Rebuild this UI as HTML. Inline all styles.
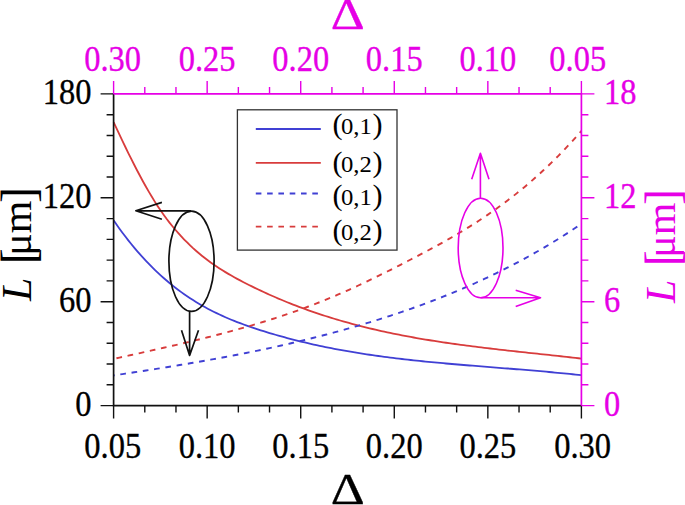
<!DOCTYPE html><html><head><meta charset="utf-8"><style>html,body{margin:0;padding:0;background:#fff;overflow:hidden;width:685px;height:505px;}svg{display:block;}text{font-family:"Liberation Serif",serif;}</style></head><body>
<svg width="685" height="505" viewBox="0 0 685 505">
<path d="M113.60,122.10 L116.54,128.43 L119.48,134.70 L122.43,140.90 L125.37,147.01 L128.31,153.04 L131.25,158.96 L134.19,164.78 L137.14,170.48 L140.08,176.04 L143.02,181.47 L145.96,186.75 L148.91,191.87 L151.85,196.82 L154.79,201.60 L157.73,206.19 L160.67,210.59 L163.62,214.78 L166.56,218.78 L169.50,222.60 L172.44,226.26 L175.38,229.78 L178.33,233.15 L181.27,236.40 L184.21,239.51 L187.15,242.49 L190.10,245.36 L193.04,248.11 L195.98,250.74 L198.92,253.28 L201.86,255.71 L204.81,258.05 L207.75,260.30 L210.69,262.46 L213.63,264.54 L216.57,266.54 L219.52,268.47 L222.46,270.34 L225.40,272.14 L228.34,273.89 L231.29,275.59 L234.23,277.23 L237.17,278.84 L240.11,280.41 L243.05,281.95 L246.00,283.46 L248.94,284.95 L251.88,286.41 L254.82,287.85 L257.76,289.27 L260.71,290.66 L263.65,292.03 L266.59,293.38 L269.53,294.71 L272.48,296.01 L275.42,297.29 L278.36,298.55 L281.30,299.79 L284.24,301.01 L287.19,302.21 L290.13,303.39 L293.07,304.54 L296.01,305.68 L298.95,306.80 L301.90,307.90 L304.84,308.97 L307.78,310.03 L310.72,311.07 L313.67,312.09 L316.61,313.10 L319.55,314.08 L322.49,315.05 L325.43,316.00 L328.38,316.93 L331.32,317.85 L334.26,318.75 L337.20,319.63 L340.14,320.49 L343.09,321.34 L346.03,322.18 L348.97,322.99 L351.91,323.79 L354.86,324.58 L357.80,325.35 L360.74,326.11 L363.68,326.85 L366.62,327.58 L369.57,328.30 L372.51,329.00 L375.45,329.68 L378.39,330.36 L381.33,331.02 L384.28,331.67 L387.22,332.30 L390.16,332.92 L393.10,333.53 L396.05,334.13 L398.99,334.72 L401.93,335.30 L404.87,335.86 L407.81,336.42 L410.76,336.96 L413.70,337.49 L416.64,338.02 L419.58,338.53 L422.52,339.03 L425.47,339.53 L428.41,340.01 L431.35,340.49 L434.29,340.95 L437.24,341.41 L440.18,341.86 L443.12,342.31 L446.06,342.74 L449.00,343.17 L451.95,343.59 L454.89,344.00 L457.83,344.41 L460.77,344.81 L463.71,345.20 L466.66,345.59 L469.60,345.97 L472.54,346.35 L475.48,346.72 L478.43,347.09 L481.37,347.45 L484.31,347.80 L487.25,348.16 L490.19,348.50 L493.14,348.85 L496.08,349.19 L499.02,349.53 L501.96,349.86 L504.90,350.19 L507.85,350.52 L510.79,350.85 L513.73,351.17 L516.67,351.49 L519.62,351.81 L522.56,352.13 L525.50,352.45 L528.44,352.77 L531.38,353.08 L534.33,353.40 L537.27,353.71 L540.21,354.03 L543.15,354.34 L546.09,354.66 L549.04,354.98 L551.98,355.30 L554.92,355.61 L557.86,355.94 L560.81,356.26 L563.75,356.58 L566.69,356.91 L569.63,357.24 L572.57,357.57 L575.52,357.90 L578.46,358.24 L581.40,358.58" fill="none" stroke="#d83c3c" stroke-width="1.8"/>
<path d="M113.60,220.31 L116.54,224.54 L119.48,228.66 L122.43,232.66 L125.37,236.56 L128.31,240.34 L131.25,244.02 L134.19,247.60 L137.14,251.07 L140.08,254.44 L143.02,257.71 L145.96,260.88 L148.91,263.96 L151.85,266.95 L154.79,269.84 L157.73,272.65 L160.67,275.37 L163.62,278.00 L166.56,280.55 L169.50,283.02 L172.44,285.41 L175.38,287.73 L178.33,289.97 L181.27,292.13 L184.21,294.23 L187.15,296.25 L190.10,298.21 L193.04,300.11 L195.98,301.94 L198.92,303.71 L201.86,305.42 L204.81,307.07 L207.75,308.67 L210.69,310.21 L213.63,311.71 L216.57,313.15 L219.52,314.55 L222.46,315.90 L225.40,317.21 L228.34,318.48 L231.29,319.71 L234.23,320.90 L237.17,322.06 L240.11,323.18 L243.05,324.28 L246.00,325.34 L248.94,326.37 L251.88,327.39 L254.82,328.37 L257.76,329.34 L260.71,330.29 L263.65,331.21 L266.59,332.13 L269.53,333.02 L272.48,333.90 L275.42,334.76 L278.36,335.60 L281.30,336.43 L284.24,337.24 L287.19,338.04 L290.13,338.82 L293.07,339.58 L296.01,340.33 L298.95,341.06 L301.90,341.78 L304.84,342.49 L307.78,343.18 L310.72,343.85 L313.67,344.52 L316.61,345.16 L319.55,345.80 L322.49,346.42 L325.43,347.03 L328.38,347.62 L331.32,348.21 L334.26,348.78 L337.20,349.34 L340.14,349.88 L343.09,350.42 L346.03,350.94 L348.97,351.45 L351.91,351.95 L354.86,352.45 L357.80,352.92 L360.74,353.39 L363.68,353.85 L366.62,354.30 L369.57,354.74 L372.51,355.17 L375.45,355.59 L378.39,356.00 L381.33,356.41 L384.28,356.80 L387.22,357.19 L390.16,357.56 L393.10,357.93 L396.05,358.30 L398.99,358.65 L401.93,359.00 L404.87,359.34 L407.81,359.67 L410.76,360.00 L413.70,360.32 L416.64,360.63 L419.58,360.94 L422.52,361.24 L425.47,361.54 L428.41,361.83 L431.35,362.12 L434.29,362.40 L437.24,362.68 L440.18,362.95 L443.12,363.22 L446.06,363.48 L449.00,363.75 L451.95,364.00 L454.89,364.26 L457.83,364.51 L460.77,364.76 L463.71,365.00 L466.66,365.24 L469.60,365.49 L472.54,365.72 L475.48,365.96 L478.43,366.20 L481.37,366.43 L484.31,366.67 L487.25,366.90 L490.19,367.13 L493.14,367.36 L496.08,367.59 L499.02,367.83 L501.96,368.06 L504.90,368.29 L507.85,368.52 L510.79,368.76 L513.73,368.99 L516.67,369.23 L519.62,369.47 L522.56,369.71 L525.50,369.95 L528.44,370.19 L531.38,370.44 L534.33,370.69 L537.27,370.94 L540.21,371.19 L543.15,371.45 L546.09,371.72 L549.04,371.98 L551.98,372.25 L554.92,372.53 L557.86,372.80 L560.81,373.09 L563.75,373.38 L566.69,373.67 L569.63,373.97 L572.57,374.27 L575.52,374.58 L578.46,374.90 L581.40,375.22" fill="none" stroke="#4040d4" stroke-width="1.8"/>
<path d="M113.60,358.90 L116.54,358.25 L119.48,357.60 L122.43,356.95 L125.37,356.30 L128.31,355.65 L131.25,355.00 L134.19,354.36 L137.14,353.71 L140.08,353.06 L143.02,352.40 L145.96,351.75 L148.91,351.10 L151.85,350.44 L154.79,349.78 L157.73,349.12 L160.67,348.46 L163.62,347.79 L166.56,347.12 L169.50,346.45 L172.44,345.77 L175.38,345.09 L178.33,344.41 L181.27,343.72 L184.21,343.03 L187.15,342.33 L190.10,341.63 L193.04,340.92 L195.98,340.20 L198.92,339.49 L201.86,338.76 L204.81,338.03 L207.75,337.29 L210.69,336.55 L213.63,335.80 L216.57,335.04 L219.52,334.28 L222.46,333.50 L225.40,332.72 L228.34,331.94 L231.29,331.14 L234.23,330.33 L237.17,329.52 L240.11,328.70 L243.05,327.87 L246.00,327.02 L248.94,326.17 L251.88,325.31 L254.82,324.44 L257.76,323.56 L260.71,322.67 L263.65,321.76 L266.59,320.85 L269.53,319.92 L272.48,318.99 L275.42,318.04 L278.36,317.08 L281.30,316.11 L284.24,315.12 L287.19,314.12 L290.13,313.11 L293.07,312.08 L296.01,311.05 L298.95,309.99 L301.90,308.93 L304.84,307.85 L307.78,306.75 L310.72,305.65 L313.67,304.52 L316.61,303.38 L319.55,302.23 L322.49,301.06 L325.43,299.87 L328.38,298.67 L331.32,297.45 L334.26,296.22 L337.20,294.97 L340.14,293.70 L343.09,292.41 L346.03,291.11 L348.97,289.80 L351.91,288.46 L354.86,287.12 L357.80,285.76 L360.74,284.39 L363.68,283.00 L366.62,281.61 L369.57,280.20 L372.51,278.78 L375.45,277.35 L378.39,275.90 L381.33,274.45 L384.28,272.99 L387.22,271.52 L390.16,270.04 L393.10,268.56 L396.05,267.07 L398.99,265.57 L401.93,264.06 L404.87,262.55 L407.81,261.03 L410.76,259.51 L413.70,257.98 L416.64,256.45 L419.58,254.91 L422.52,253.36 L425.47,251.81 L428.41,250.24 L431.35,248.66 L434.29,247.07 L437.24,245.47 L440.18,243.85 L443.12,242.22 L446.06,240.57 L449.00,238.90 L451.95,237.21 L454.89,235.50 L457.83,233.77 L460.77,232.02 L463.71,230.24 L466.66,228.44 L469.60,226.62 L472.54,224.77 L475.48,222.89 L478.43,220.99 L481.37,219.06 L484.31,217.10 L487.25,215.11 L490.19,213.08 L493.14,211.03 L496.08,208.95 L499.02,206.83 L501.96,204.68 L504.90,202.49 L507.85,200.27 L510.79,198.01 L513.73,195.72 L516.67,193.38 L519.62,191.01 L522.56,188.60 L525.50,186.15 L528.44,183.66 L531.38,181.13 L534.33,178.55 L537.27,175.93 L540.21,173.27 L543.15,170.56 L546.09,167.80 L549.04,165.00 L551.98,162.15 L554.92,159.26 L557.86,156.31 L560.81,153.32 L563.75,150.27 L566.69,147.17 L569.63,144.02 L572.57,140.82 L575.52,137.56 L578.46,134.25 L581.40,130.88" fill="none" stroke="#d83c3c" stroke-width="1.9" stroke-dasharray="5.7 5.7" stroke-dashoffset="8.5"/>
<path d="M113.60,375.39 L116.54,374.95 L119.48,374.51 L122.43,374.07 L125.37,373.63 L128.31,373.19 L131.25,372.74 L134.19,372.29 L137.14,371.84 L140.08,371.39 L143.02,370.94 L145.96,370.48 L148.91,370.03 L151.85,369.56 L154.79,369.10 L157.73,368.63 L160.67,368.17 L163.62,367.69 L166.56,367.22 L169.50,366.74 L172.44,366.26 L175.38,365.78 L178.33,365.29 L181.27,364.80 L184.21,364.31 L187.15,363.81 L190.10,363.31 L193.04,362.80 L195.98,362.29 L198.92,361.78 L201.86,361.26 L204.81,360.74 L207.75,360.22 L210.69,359.69 L213.63,359.16 L216.57,358.62 L219.52,358.08 L222.46,357.53 L225.40,356.98 L228.34,356.42 L231.29,355.86 L234.23,355.29 L237.17,354.72 L240.11,354.14 L243.05,353.56 L246.00,352.98 L248.94,352.38 L251.88,351.78 L254.82,351.18 L257.76,350.57 L260.71,349.96 L263.65,349.33 L266.59,348.71 L269.53,348.07 L272.48,347.43 L275.42,346.79 L278.36,346.14 L281.30,345.48 L284.24,344.81 L287.19,344.14 L290.13,343.46 L293.07,342.78 L296.01,342.09 L298.95,341.39 L301.90,340.68 L304.84,339.97 L307.78,339.25 L310.72,338.52 L313.67,337.78 L316.61,337.04 L319.55,336.29 L322.49,335.53 L325.43,334.77 L328.38,334.00 L331.32,333.21 L334.26,332.42 L337.20,331.63 L340.14,330.82 L343.09,330.01 L346.03,329.18 L348.97,328.35 L351.91,327.51 L354.86,326.66 L357.80,325.81 L360.74,324.94 L363.68,324.07 L366.62,323.18 L369.57,322.29 L372.51,321.39 L375.45,320.48 L378.39,319.56 L381.33,318.63 L384.28,317.69 L387.22,316.74 L390.16,315.78 L393.10,314.81 L396.05,313.83 L398.99,312.84 L401.93,311.84 L404.87,310.83 L407.81,309.81 L410.76,308.78 L413.70,307.74 L416.64,306.68 L419.58,305.62 L422.52,304.55 L425.47,303.46 L428.41,302.36 L431.35,301.25 L434.29,300.12 L437.24,298.99 L440.18,297.84 L443.12,296.68 L446.06,295.50 L449.00,294.32 L451.95,293.12 L454.89,291.90 L457.83,290.67 L460.77,289.43 L463.71,288.17 L466.66,286.90 L469.60,285.61 L472.54,284.31 L475.48,283.00 L478.43,281.66 L481.37,280.32 L484.31,278.95 L487.25,277.57 L490.19,276.18 L493.14,274.77 L496.08,273.34 L499.02,271.90 L501.96,270.43 L504.90,268.96 L507.85,267.46 L510.79,265.95 L513.73,264.42 L516.67,262.87 L519.62,261.30 L522.56,259.71 L525.50,258.11 L528.44,256.49 L531.38,254.85 L534.33,253.19 L537.27,251.51 L540.21,249.81 L543.15,248.09 L546.09,246.35 L549.04,244.59 L551.98,242.81 L554.92,241.01 L557.86,239.19 L560.81,237.35 L563.75,235.48 L566.69,233.60 L569.63,231.69 L572.57,229.77 L575.52,227.82 L578.46,225.84 L581.40,223.85" fill="none" stroke="#4040d4" stroke-width="1.9" stroke-dasharray="5.7 5.7" stroke-dashoffset="4.65"/>
<path d="M113.60,405.6 V418.6 M144.79,405.6 V412.6 M175.97,405.6 V412.6 M207.16,405.6 V418.6 M238.35,405.6 V412.6 M269.53,405.6 V412.6 M300.72,405.6 V418.6 M331.91,405.6 V412.6 M363.09,405.6 V412.6 M394.28,405.6 V418.6 M425.47,405.6 V412.6 M456.65,405.6 V412.6 M487.84,405.6 V418.6 M519.03,405.6 V412.6 M550.21,405.6 V412.6 M581.40,405.6 V418.6 M113.6,405.60 H100.6 M113.6,384.82 H106.6 M113.6,364.04 H106.6 M113.6,343.26 H106.6 M113.6,322.48 H106.6 M113.6,301.70 H100.6 M113.6,280.92 H106.6 M113.6,260.14 H106.6 M113.6,239.36 H106.6 M113.6,218.58 H106.6 M113.6,197.80 H100.6 M113.6,177.02 H106.6 M113.6,156.24 H106.6 M113.6,135.46 H106.6 M113.6,114.68 H106.6 M113.6,93.90 H100.6" stroke="#111" stroke-width="1.4" fill="none"/>
<path d="M113.6,93.2 V405.6 H582.1" stroke="#111" stroke-width="1.7" fill="none"/>
<path d="M113.60,93.9 V80.9 M144.79,93.9 V86.9 M175.97,93.9 V86.9 M207.16,93.9 V80.9 M238.35,93.9 V86.9 M269.53,93.9 V86.9 M300.72,93.9 V80.9 M331.91,93.9 V86.9 M363.09,93.9 V86.9 M394.28,93.9 V80.9 M425.47,93.9 V86.9 M456.65,93.9 V86.9 M487.84,93.9 V80.9 M519.03,93.9 V86.9 M550.21,93.9 V86.9 M581.40,93.9 V80.9 M581.4,405.60 H594.4 M581.4,384.82 H588.4 M581.4,364.04 H588.4 M581.4,343.26 H588.4 M581.4,322.48 H588.4 M581.4,301.70 H594.4 M581.4,280.92 H588.4 M581.4,260.14 H588.4 M581.4,239.36 H588.4 M581.4,218.58 H588.4 M581.4,197.80 H594.4 M581.4,177.02 H588.4 M581.4,156.24 H588.4 M581.4,135.46 H588.4 M581.4,114.68 H588.4 M581.4,93.90 H594.4" stroke="#e600e6" stroke-width="1.4" fill="none"/>
<path d="M113.6,93.9 H581.4 V405.6" stroke="#e600e6" stroke-width="1.7" fill="none"/>
<text transform="translate(112.80,458.20) scale(1,1.09)" font-size="32.5" text-anchor="middle" stroke="#000" stroke-width="0.3">0.05</text>
<text transform="translate(207.16,458.20) scale(1,1.09)" font-size="32.5" text-anchor="middle" stroke="#000" stroke-width="0.3">0.10</text>
<text transform="translate(300.72,458.20) scale(1,1.09)" font-size="32.5" text-anchor="middle" stroke="#000" stroke-width="0.3">0.15</text>
<text transform="translate(394.28,458.20) scale(1,1.09)" font-size="32.5" text-anchor="middle" stroke="#000" stroke-width="0.3">0.20</text>
<text transform="translate(487.84,458.20) scale(1,1.09)" font-size="32.5" text-anchor="middle" stroke="#000" stroke-width="0.3">0.25</text>
<text transform="translate(582.60,458.20) scale(1,1.09)" font-size="32.5" text-anchor="middle" stroke="#000" stroke-width="0.3">0.30</text>
<text transform="translate(112.60,70.80) scale(1,1.09)" font-size="32.5" text-anchor="middle" fill="#e600e6" stroke="#e600e6" stroke-width="0.3">0.30</text>
<text transform="translate(207.16,70.80) scale(1,1.09)" font-size="32.5" text-anchor="middle" fill="#e600e6" stroke="#e600e6" stroke-width="0.3">0.25</text>
<text transform="translate(300.72,70.80) scale(1,1.09)" font-size="32.5" text-anchor="middle" fill="#e600e6" stroke="#e600e6" stroke-width="0.3">0.20</text>
<text transform="translate(394.28,70.80) scale(1,1.09)" font-size="32.5" text-anchor="middle" fill="#e600e6" stroke="#e600e6" stroke-width="0.3">0.15</text>
<text transform="translate(487.84,70.80) scale(1,1.09)" font-size="32.5" text-anchor="middle" fill="#e600e6" stroke="#e600e6" stroke-width="0.3">0.10</text>
<text transform="translate(577.80,70.80) scale(1,1.09)" font-size="32.5" text-anchor="middle" fill="#e600e6" stroke="#e600e6" stroke-width="0.3">0.05</text>
<text transform="translate(91.60,415.60) scale(1,1.09)" font-size="32.5" text-anchor="end" stroke="#000" stroke-width="0.3">0</text>
<text transform="translate(91.60,311.70) scale(1,1.09)" font-size="32.5" text-anchor="end" stroke="#000" stroke-width="0.3">60</text>
<text transform="translate(91.60,207.80) scale(1,1.09)" font-size="32.5" text-anchor="end" stroke="#000" stroke-width="0.3">120</text>
<text transform="translate(91.60,103.90) scale(1,1.09)" font-size="32.5" text-anchor="end" stroke="#000" stroke-width="0.3">180</text>
<text transform="translate(604.00,415.60) scale(1,1.09)" font-size="32.5" text-anchor="start" fill="#e600e6" stroke="#e600e6" stroke-width="0.3">0</text>
<text transform="translate(604.00,311.70) scale(1,1.09)" font-size="32.5" text-anchor="start" fill="#e600e6" stroke="#e600e6" stroke-width="0.3">6</text>
<text transform="translate(604.00,207.80) scale(1,1.09)" font-size="32.5" text-anchor="start" fill="#e600e6" stroke="#e600e6" stroke-width="0.3">12</text>
<text transform="translate(604.00,103.90) scale(1,1.09)" font-size="32.5" text-anchor="start" fill="#e600e6" stroke="#e600e6" stroke-width="0.3">18</text>
<text transform="translate(347.70,504.00) scale(1.2,1)" font-size="44" text-anchor="middle" stroke="#000" stroke-width="0.3">&#916;</text>
<text transform="translate(347.70,29.00) scale(1.2,1)" font-size="44" text-anchor="middle" fill="#e600e6" stroke="#e600e6" stroke-width="0.3">&#916;</text>
<text transform="translate(31,301) rotate(-90)" font-size="42"><tspan font-style="italic">L</tspan><tspan> </tspan><tspan font-size="48" dx="3" dy="2.5">[</tspan><tspan dx="-7.5" dy="-2.5">&#956;m</tspan><tspan font-size="48" dx="-2.5" dy="2.5">]</tspan></text>
<text transform="translate(675,303) rotate(-90)" font-size="42" fill="#e600e6"><tspan font-style="italic">L</tspan><tspan> </tspan><tspan font-size="48" dx="3" dy="2.5">[</tspan><tspan dx="-7.5" dy="-2.5">&#956;m</tspan><tspan font-size="48" dx="-2.5" dy="2.5">]</tspan></text>
<rect x="237.4" y="109.8" width="159.6" height="140.3" fill="#fff" stroke="#333" stroke-width="1.3"/>
<path d="M255.8,129.0 H320.8" stroke="#4040d4" stroke-width="1.8"/>
<text transform="translate(332.6,134.10) scale(1.06,1)" font-size="23.3"><tspan font-size="28.5">(</tspan><tspan dx="-1.6">0,1</tspan><tspan dx="0.6" font-size="28.5">)</tspan></text>
<path d="M255.8,162.8 H320.8" stroke="#d83c3c" stroke-width="1.8"/>
<text transform="translate(332.6,172.00) scale(1.06,1)" font-size="23.3"><tspan font-size="28.5">(</tspan><tspan dx="-1.6">0,2</tspan><tspan dx="0.6" font-size="28.5">)</tspan></text>
<path d="M255.8,193.5 H318" stroke="#4040d4" stroke-width="1.8" stroke-dasharray="5.6 5.7"/>
<text transform="translate(332.6,205.30) scale(1.06,1)" font-size="23.3"><tspan font-size="28.5">(</tspan><tspan dx="-1.6">0,1</tspan><tspan dx="0.6" font-size="28.5">)</tspan></text>
<path d="M255.8,226.6 H318" stroke="#d83c3c" stroke-width="1.8" stroke-dasharray="5.6 5.7"/>
<text transform="translate(332.6,240.00) scale(1.06,1)" font-size="23.3"><tspan font-size="28.5">(</tspan><tspan dx="-1.6">0,2</tspan><tspan dx="0.6" font-size="28.5">)</tspan></text>
<g fill="none" stroke="#111" stroke-width="1.7" stroke-linejoin="round">
<ellipse cx="191.5" cy="261.3" rx="22.6" ry="50.1"/>
<path d="M191,210.8 H135.8 M161.9,202.4 L135.8,210.8 L161.9,219.2"/>
<path d="M189.6,311.4 V355.5 M181.5,330.3 L189.6,355.5 L198.5,330.3"/>
</g>
<g fill="none" stroke="#e600e6" stroke-width="1.6" stroke-linejoin="round">
<ellipse cx="480.6" cy="248" rx="22.4" ry="49.8"/>
<path d="M480.4,198.3 V153.2 M471.7,179.3 L480.4,153.2 L489,179.3"/>
<path d="M480.6,297.8 H540.5 M515.7,290.3 L540.5,297.8 L515.7,306.6"/>
</g>
</svg></body></html>
